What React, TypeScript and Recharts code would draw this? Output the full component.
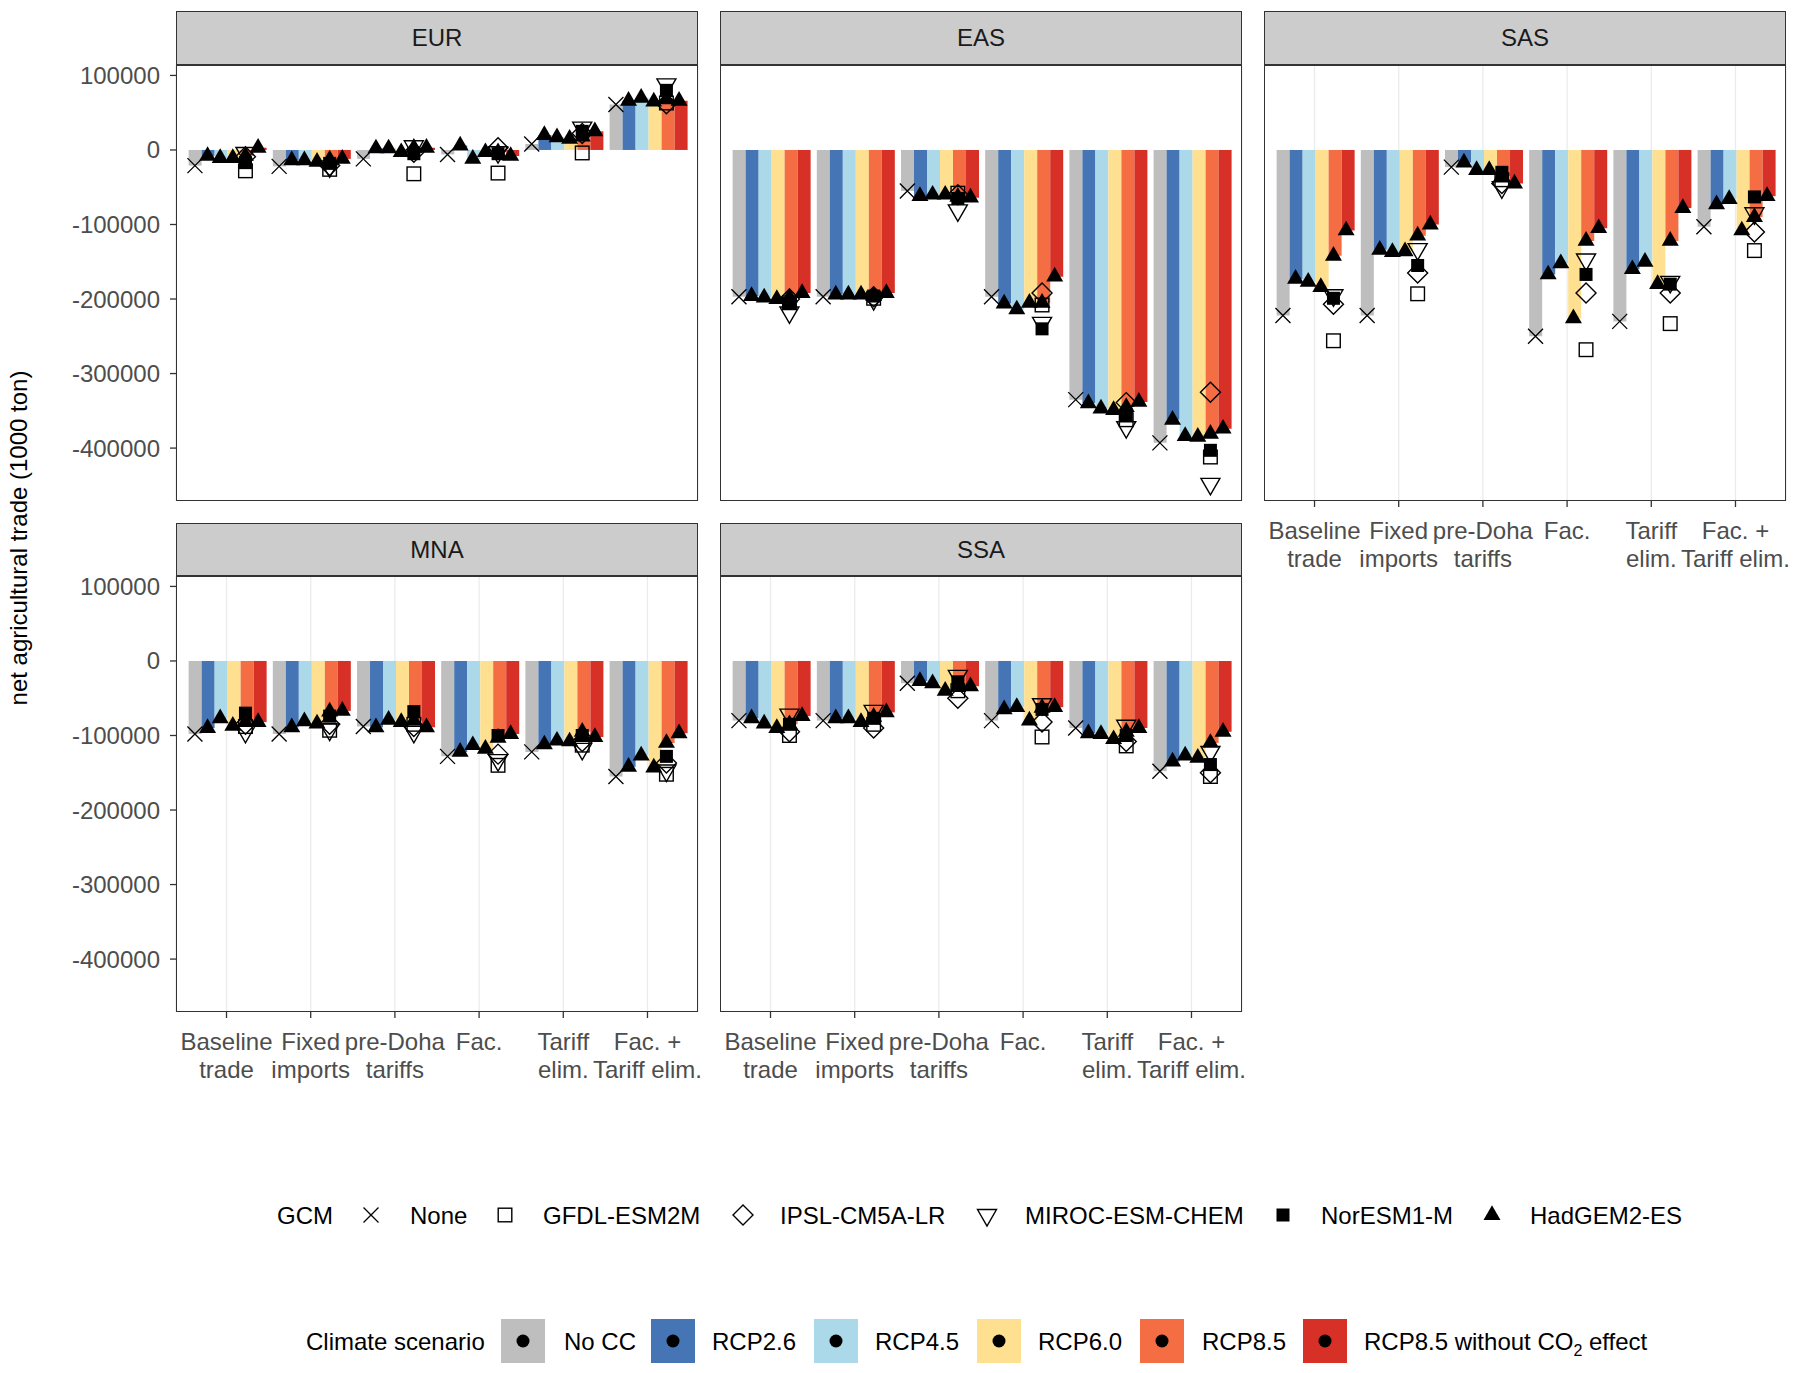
import React from "react";
import { ComposedChart, Bar, Scatter, XAxis, YAxis, CartesianGrid } from "recharts";

const FONT = "'Liberation Sans', Arial, sans-serif";

// ---------- categories / labels ----------
const policies = ["Baseline trade", "Fixed imports", "pre-Doha tariffs", "Fac.", "Tariff elim.", "Fac. + Tariff elim."];
const policyTickLines = [["Baseline", "trade"], ["Fixed", "imports"], ["pre-Doha", "tariffs"], ["Fac."], ["Tariff", "elim."], ["Fac. +", "Tariff elim."]];
const scenarios = ["No CC", "RCP2.6", "RCP4.5", "RCP6.0", "RCP8.5", "RCP8.5 without CO2 effect"];
const scenarioKeys = ["noCC", "rcp26", "rcp45", "rcp60", "rcp85", "rcp85noCO2"];
const scenarioColors = ["#BEBEBE", "#4575B4", "#ABD9E9", "#FEE090", "#F46D43", "#D73027"];
const gcms = ["None", "GFDL-ESM2M", "IPSL-CM5A-LR", "MIROC-ESM-CHEM", "NorESM1-M", "HadGEM2-ES"];
const yTicks = [100000, 0, -100000, -200000, -300000, -400000];

// ---------- EUR ----------
const eurNoCC = [-21000, -22000, -12000, -6000, 8000, 61000];
const eurRcp26 = [-8000, -14000, 2000, 6000, 20000, 66000];
const eurRcp45 = [-11000, -14000, 2000, -12000, 17000, 70000];
const eurRcp60 = [-11000, -16000, -3000, -3000, 15000, 65000];
const eurRcp85 = [-8000, -13000, 3000, -3000, 18000, 68000];
const eurRcp85NoCO2 = [3000, -12000, 3000, -8000, 25000, 66000];
const eurGfdl = [-28000, -26000, -32000, -31000, -4000, 63000];
const eurIpsl = [-9000, -21000, -3000, 3000, 22000, 62000];
const eurMiroc = [-4000, -22000, 5000, -3000, 30000, 88000];
const eurNoresm = [-17000, -18000, -5000, -5000, 25000, 80000];

// ---------- EAS ----------
const easNoCC = [-197000, -197000, -55000, -197000, -335000, -393000];
const easRcp26 = [-196000, -194000, -62000, -206000, -340000, -362000];
const easRcp45 = [-198000, -194000, -60000, -214000, -347000, -384000];
const easRcp60 = [-200000, -194000, -60000, -205000, -349000, -385000];
const easRcp85 = [-198000, -196000, -63000, -205000, -345000, -381000];
const easRcp85NoCO2 = [-192000, -192000, -64000, -170000, -338000, -374000];
const easGfdl = [-205000, -199000, -58000, -208000, -362000, -412000];
const easIpsl = [-200000, -197000, -60000, -192000, -339000, -325000];
const easMiroc = [-218000, -200000, -81000, -232000, -372000, -448000];
const easNoresm = [-206000, -196000, -65000, -240000, -355000, -403000];

// ---------- SAS ----------
const sasNoCC = [-222000, -222000, -23000, -250000, -230000, -103000];
const sasRcp26 = [-173000, -134000, -17000, -167000, -160000, -73000];
const sasRcp45 = [-177000, -137000, -27000, -152000, -150000, -66000];
const sasRcp60 = [-184000, -136000, -27000, -226000, -180000, -108000];
const sasRcp85 = [-142000, -115000, -35000, -122000, -122000, -90000];
const sasRcp85NoCO2 = [-108000, -100000, -45000, -105000, -78000, -62000];
const sasGfdl = [-256000, -193000, -40000, -268000, -233000, -135000];
const sasIpsl = [-207000, -165000, -45000, -192000, -192000, -110000];
const sasMiroc = [-195000, -133000, -50000, -147000, -177000, -85000];
const sasNoresm = [-199000, -155000, -30000, -167000, -180000, -63000];

// ---------- MNA ----------
const mnaNoCC = [-98000, -98000, -88000, -128000, -122000, -155000];
const mnaRcp26 = [-90000, -89000, -89000, -122000, -112000, -142000];
const mnaRcp45 = [-77000, -81000, -79000, -113000, -107000, -127000];
const mnaRcp60 = [-87000, -84000, -82000, -118000, -108000, -143000];
const mnaRcp85 = [-82000, -68000, -80000, -103000, -95000, -110000];
const mnaRcp85NoCO2 = [-82000, -67000, -89000, -98000, -102000, -97000];
const mnaGfdl = [-88000, -93000, -85000, -140000, -113000, -152000];
const mnaIpsl = [-85000, -85000, -88000, -125000, -108000, -137000];
const mnaMiroc = [-95000, -92000, -95000, -133000, -118000, -147000];
const mnaNoresm = [-70000, -74000, -68000, -100000, -100000, -128000];

// ---------- SSA ----------
const ssaNoCC = [-80000, -80000, -30000, -80000, -90000, -148000];
const ssaRcp26 = [-77000, -77000, -27000, -65000, -97000, -135000];
const ssaRcp45 = [-84000, -77000, -30000, -62000, -98000, -127000];
const ssaRcp60 = [-90000, -82000, -40000, -80000, -105000, -130000];
const ssaRcp85 = [-85000, -75000, -35000, -63000, -95000, -110000];
const ssaRcp85NoCO2 = [-74000, -69000, -34000, -62000, -90000, -95000];
const ssaGfdl = [-100000, -85000, -40000, -102000, -114000, -155000];
const ssaIpsl = [-95000, -90000, -50000, -82000, -108000, -150000];
const ssaMiroc = [-72000, -67000, -20000, -58000, -87000, -122000];
const ssaNoresm = [-85000, -77000, -28000, -65000, -100000, -139000];

const regionSeries: Record<string, { bars: number[][]; gcm85: number[][] }> = {
  EUR: { bars: [eurNoCC, eurRcp26, eurRcp45, eurRcp60, eurRcp85, eurRcp85NoCO2], gcm85: [eurGfdl, eurIpsl, eurMiroc, eurNoresm] },
  EAS: { bars: [easNoCC, easRcp26, easRcp45, easRcp60, easRcp85, easRcp85NoCO2], gcm85: [easGfdl, easIpsl, easMiroc, easNoresm] },
  SAS: { bars: [sasNoCC, sasRcp26, sasRcp45, sasRcp60, sasRcp85, sasRcp85NoCO2], gcm85: [sasGfdl, sasIpsl, sasMiroc, sasNoresm] },
  MNA: { bars: [mnaNoCC, mnaRcp26, mnaRcp45, mnaRcp60, mnaRcp85, mnaRcp85NoCO2], gcm85: [mnaGfdl, mnaIpsl, mnaMiroc, mnaNoresm] },
  SSA: { bars: [ssaNoCC, ssaRcp26, ssaRcp45, ssaRcp60, ssaRcp85, ssaRcp85NoCO2], gcm85: [ssaGfdl, ssaIpsl, ssaMiroc, ssaNoresm] },
};

// dodge offset of scenario j within a category (ggplot position_dodge width 0.9, 6 bars)
const dodge = (j: number) => (j - 2.5) * 0.15;

function buildRows(region: string) {
  const { bars } = regionSeries[region];
  return policies.map((p, i) => {
    const row: any = { policy: p };
    scenarioKeys.forEach((k, j) => (row[k] = bars[j][i]));
    return row;
  });
}

function buildPoints(region: string): { x: number; y: number }[][] {
  const { bars, gcm85 } = regionSeries[region];
  const pts: { x: number; y: number }[][] = [];
  pts.push(policies.map((_, i) => ({ x: i + 1 + dodge(0), y: bars[0][i] })));
  for (let k = 0; k < 4; k++) pts.push(policies.map((_, i) => ({ x: i + 1 + dodge(4), y: gcm85[k][i] })));
  const had: { x: number; y: number }[] = [];
  for (let j = 1; j < 6; j++) policies.forEach((_, i) => had.push({ x: i + 1 + dodge(j), y: bars[j][i] }));
  pts.push(had);
  return pts;
}

function markerPath(kind: number, cx: number, cy: number) {
  const sw = 1.4;
  switch (kind) {
    case 0: {
      const s = 7.5;
      return <path d={`M${cx - s},${cy - s}L${cx + s},${cy + s}M${cx - s},${cy + s}L${cx + s},${cy - s}`} stroke="#000" strokeWidth={1.3} fill="none" />;
    }
    case 1:
      return <rect x={cx - 6.8} y={cy - 6.8} width={13.6} height={13.6} fill="none" stroke="#000" strokeWidth={sw} />;
    case 2: {
      const r = 10;
      return <path d={`M${cx},${cy - r}L${cx + r},${cy}L${cx},${cy + r}L${cx - r},${cy}Z`} fill="none" stroke="#000" strokeWidth={sw} />;
    }
    case 3: {
      const h = 9.5, t = 16.5;
      return <path d={`M${cx - h},${cy - t / 3}L${cx + h},${cy - t / 3}L${cx},${cy + (2 * t) / 3}Z`} fill="none" stroke="#000" strokeWidth={sw} />;
    }
    case 4:
      return <rect x={cx - 6.5} y={cy - 6.5} width={13} height={13} fill="#000" />;
    default: {
      const h = 8.5, t = 14.7;
      return <path d={`M${cx},${cy - (2 * t) / 3}L${cx + h},${cy + t / 3}L${cx - h},${cy + t / 3}Z`} fill="#000" />;
    }
  }
}

const makeShape = (kind: number) => (props: any) => {
  const { cx, cy } = props;
  if (cx == null || cy == null) return <g />;
  return <g>{markerPath(kind, cx, cy)}</g>;
};

const XTick = (props: any) => {
  const { x, y, payload } = props;
  const lines = policyTickLines[Math.round(payload.value) - 1] || [];
  return (
    <text x={x} y={y} textAnchor="middle" fill="#4d4d4d" fontSize={24} fontFamily={FONT}>
      {lines.map((l, i) => (
        <tspan key={i} x={x} dy={i === 0 ? 30 : 28}>{l}</tspan>
      ))}
    </text>
  );
};

const PLOT_W = 522;
const PLOT_H = 436;
const M_TOP = 14;
const M_BOTTOM = 14;
const M_RIGHT = 14;

function Panel({ region, plotLeft, plotTop, stripTop, showY, showX }: any) {
  const yW = showY ? 176 : 0;
  const xH = showX ? 80 : 1;
  const pad = (PLOT_W / 6.2) * 0.1;
  const rows = buildRows(region);
  const pts = buildPoints(region);
  return (
    <>
      <div
        style={{
          position: "absolute", left: plotLeft, top: stripTop, width: PLOT_W, height: plotTop - stripTop,
          background: "#cccccc", border: "1.5px solid #333", boxSizing: "border-box",
          display: "flex", alignItems: "center", justifyContent: "center",
          fontFamily: FONT, fontSize: 24, color: "#1a1a1a",
        }}
      >
        {region}
      </div>
      <div style={{ position: "absolute", left: plotLeft - yW, top: plotTop - M_TOP }}>
        <ComposedChart
          width={PLOT_W + yW + M_RIGHT}
          height={PLOT_H + xH + M_TOP + M_BOTTOM}
          data={rows}
          margin={{ top: M_TOP, right: M_RIGHT, bottom: M_BOTTOM, left: 0 }}
          barCategoryGap="5%"
          barGap={0}
          style={{ overflow: "visible" }}
        >
          <CartesianGrid xAxisId="num" horizontal={false} stroke="#ebebeb" strokeWidth={1.3} />
          <XAxis
            xAxisId="num"
            dataKey="x"
            type="number"
            domain={[0.4, 6.6]}
            ticks={[1, 2, 3, 4, 5, 6]}
            interval={0}
            allowDataOverflow
            height={xH}
            axisLine={false}
            tickLine={showX ? { stroke: "#333", strokeWidth: 1.3 } : false}
            tickSize={6}
            tickMargin={2}
            tick={showX ? <XTick /> : false}
          />
          <XAxis xAxisId="cat" dataKey="policy" type="category" hide height={0} padding={{ left: pad, right: pad }} />
          <YAxis
            type="number"
            domain={[-471000, 114000]}
            ticks={yTicks}
            interval={0}
            allowDataOverflow
            width={yW}
            hide={!showY}
            axisLine={false}
            tickLine={{ stroke: "#333", strokeWidth: 1.3 }}
            tickSize={6}
            tickMargin={10}
            tick={{ fill: "#4d4d4d", fontSize: 24, fontFamily: FONT }}
          />
          {scenarioKeys.map((k, j) => (
            <Bar key={k} xAxisId="cat" dataKey={k} name={scenarios[j]} fill={scenarioColors[j]} isAnimationActive={false} />
          ))}
          {gcms.map((g, k) => (
            <Scatter key={g} name={g} xAxisId="num" data={pts[k]} dataKey="y" shape={makeShape(k)} isAnimationActive={false} />
          ))}
        </ComposedChart>
      </div>
      <div
        style={{
          position: "absolute", left: plotLeft, top: plotTop, width: PLOT_W, height: PLOT_H,
          border: "1.5px solid #333", boxSizing: "border-box", pointerEvents: "none",
        }}
      />
    </>
  );
}

// legend layout
const gcmLegendX = [371, 505, 743, 987, 1283, 1492];
const gcmLabelX = [410, 543, 780, 1025, 1321, 1530];
const scenKeyX = [523, 673, 836, 999, 1162, 1325];
const scenLabelX = [564, 712, 875, 1038, 1202, 1364];

function Legends() {
  const gy = 1215;
  const cy = 1341;
  return (
    <svg width={1800} height={1373} style={{ position: "absolute", left: 0, top: 0, pointerEvents: "none" }}>
      <text
        x={18} y={538} transform="rotate(-90 18 538)" textAnchor="middle" dominantBaseline="central"
        fontSize={24} fontFamily={FONT} fill="#000"
      >
        net agricultural trade (1000 ton)
      </text>
      <text x={277} y={gy + 8.5} fontSize={24} fontFamily={FONT} fill="#000">GCM</text>
      {gcms.map((g, k) => (
        <g key={g}>
          {markerPath(k, gcmLegendX[k], gy)}
          <text x={gcmLabelX[k]} y={gy + 8.5} fontSize={24} fontFamily={FONT} fill="#000">{g}</text>
        </g>
      ))}
      <text x={306} y={cy + 8.5} fontSize={24} fontFamily={FONT} fill="#000">Climate scenario</text>
      {scenarios.map((s, j) => (
        <g key={s}>
          <rect x={scenKeyX[j] - 22} y={cy - 22} width={44} height={44} fill={scenarioColors[j]} />
          <circle cx={scenKeyX[j]} cy={cy} r={6.5} fill="#000" />
          <text x={scenLabelX[j]} y={cy + 8.5} fontSize={24} fontFamily={FONT} fill="#000">
            {j === 5 ? (
              <>
                RCP8.5 without CO<tspan fontSize={16} dy={6}>2</tspan><tspan dy={-6}> effect</tspan>
              </>
            ) : (
              s
            )}
          </text>
        </g>
      ))}
    </svg>
  );
}

export default function App() {
  return (
    <div style={{ position: "absolute", left: 0, top: 0, width: 1800, height: 1373, background: "#fff", overflow: "hidden" }}>
      <Panel region="EUR" plotLeft={176} plotTop={65} stripTop={11} showY showX={false} />
      <Panel region="EAS" plotLeft={720} plotTop={65} stripTop={11} showY={false} showX={false} />
      <Panel region="SAS" plotLeft={1264} plotTop={65} stripTop={11} showY={false} showX />
      <Panel region="MNA" plotLeft={176} plotTop={576} stripTop={523} showY showX />
      <Panel region="SSA" plotLeft={720} plotTop={576} stripTop={523} showY={false} showX />
      <Legends />
    </div>
  );
}
